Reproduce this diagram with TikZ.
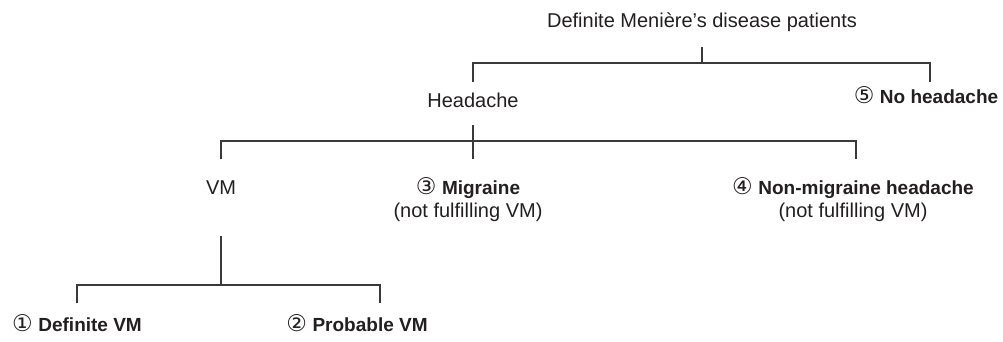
\documentclass[tikz,border=0pt]{standalone}
\usepackage{fontspec}
\setmainfont{Liberation Sans}
\newfontfamily\circfont{DejaVu Sans}
\usetikzlibrary{positioning}

\definecolor{inkgray}{HTML}{231F20}
\definecolor{linegray}{HTML}{3A3A3A}
\newcommand{\circnum}[1]{{\circfont\mdseries\fontsize{23}{24}\selectfont #1}}
\newcommand{\pick}[1]{{\bfseries\fontsize{19}{23}\selectfont #1}}

\begin{document}
\begin{tikzpicture}[x=1pt, y=-1pt, font=\fontsize{20}{23}\selectfont, align=center, text=inkgray,
  lbl/.style={inner sep=0pt, text height=14pt, text depth=4pt, anchor=base},
  lbltwo/.style={inner sep=0pt, anchor=base},
  branch/.style={line width=1.4pt, draw=linegray}]
\useasboundingbox (0,0) rectangle (1003,342);

\node (root) [lbl] at (702,28) {Definite Meni\`ere’s disease patients};
\node (head) [lbl] at (473,107) {Headache};
\node (nohead) [lbl] at (926,104) {\circnum{⑤} \pick{No headache}};
\node (vm) [lbl] at (221,194) {VM};
\node (mig) [lbltwo] at (468,217) {\circnum{③} \pick{Migraine}\\(not fulfilling VM)};
\node (nonmig) [lbltwo] at (853,217) {\circnum{④} \pick{Non-migraine headache}\\(not fulfilling VM)};
\node (defvm) [lbl] at (77,331) {\circnum{①} \pick{Definite VM}};
\node (probvm) [lbl] at (357,331) {\circnum{②} \pick{Probable VM}};

\coordinate (j0) at (702,63);
\coordinate (j1) at (473,141);
\coordinate (j2) at (221,285);

% first split
\draw[branch, shorten <=15pt] (root.south) -- (j0);
\draw[branch, shorten <=11pt, shorten >=8pt] (head.north) |- (j0) -| ([xshift=4pt]nohead.north);

% headache split
\draw[branch, shorten <=14pt, shorten >=21pt] (head.south) -- (head.south |- vm.north);
\draw[branch, shorten <=21pt, shorten >=21pt] (vm.north) |- (j1) -| ([xshift=3pt]vm.north -| nonmig);

% VM split
\draw[branch, shorten <=38pt] (vm.south) -- (j2);
\draw[branch, shorten <=14pt, shorten >=14pt] (defvm.north) |- (j2) -| ([xshift=23pt]probvm.north);
\end{tikzpicture}
\end{document}
